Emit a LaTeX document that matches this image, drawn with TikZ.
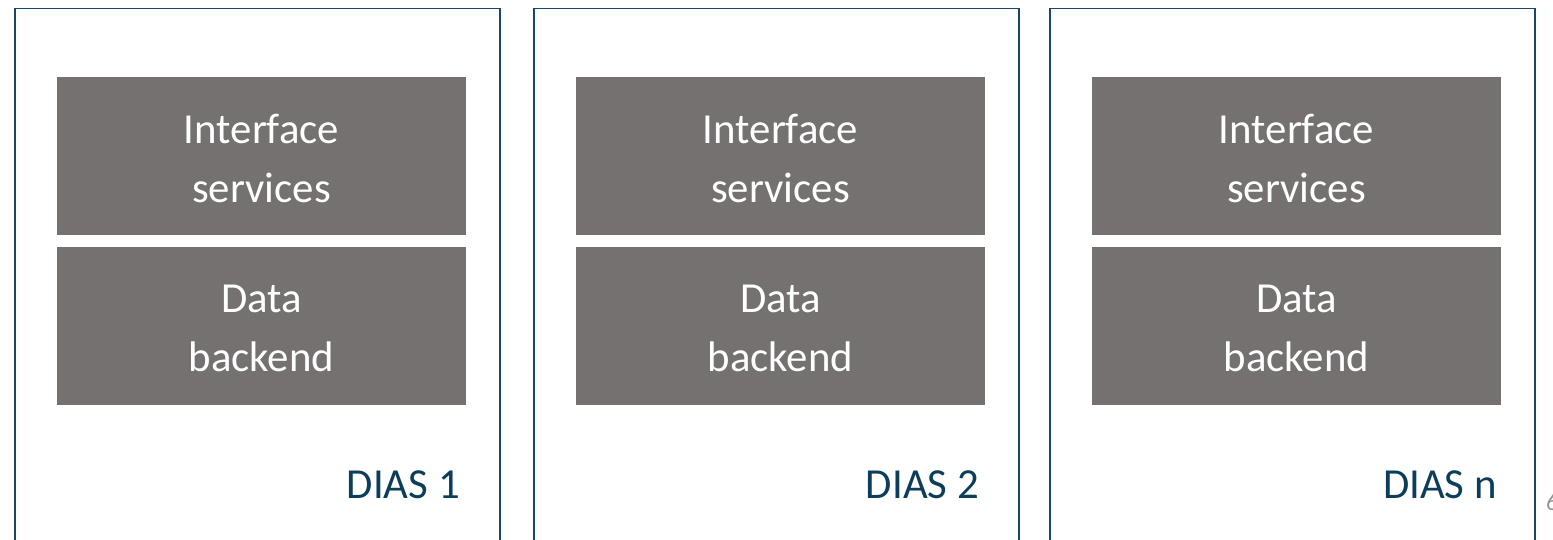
\documentclass[tikz,border=0pt]{standalone}
\usepackage{fontspec}
\setmainfont{Carlito}
\definecolor{boxgray}{RGB}{118,113,113}
\definecolor{frameblue}{RGB}{22,72,105}
\definecolor{labelblue}{RGB}{12,62,92}
\definecolor{pagegray}{RGB}{150,150,150}
\begin{document}
\begin{tikzpicture}[x=1pt,y=-1pt,
  layerbox/.style={fill=boxgray,draw=none,minimum width=409pt,minimum height=158pt,inner sep=0pt},
  layertext/.style={text=white,align=center,inner sep=0pt,font=\fontsize{42.8}{59}\selectfont},
  frame/.style={draw=frameblue,line width=1.5pt},
  dias/.style={anchor=base east,text=labelblue,inner sep=0pt,font=\fontsize{42.8}{50}\selectfont}]
\useasboundingbox (0,0) rectangle (1553,539);
% outer frames (open at the bottom)
\draw[frame] (15,545) -- (15,8.5) -- (500,8.5) -- (500,545);
\draw[frame] (534,545) -- (534,8.5) -- (1019,8.5) -- (1019,545);
\draw[frame] (1050,545) -- (1050,8.5) -- (1535,8.5) -- (1535,545);
% column 1
\node[layerbox] (if1) at (261.5,156) {};
\node[layertext] (if1t) at ([yshift=-2pt]if1.center) {Interface\\services};
\node[layerbox] (db1) at (261.5,326) {};
\node[layertext] (db1t) at ([yshift=-2pt]db1.center) {Data\\backend};
\node[dias] (d1) at (460,498) {DIAS 1};
% column 2
\node[layerbox] (if2) at (780.5,156) {};
\node[layertext] (if2t) at ([yshift=-2pt]if2.center) {Interface\\services};
\node[layerbox] (db2) at (780.5,326) {};
\node[layertext] (db2t) at ([yshift=-2pt]db2.center) {Data\\backend};
\node[dias] (d2) at (979,498) {DIAS 2};
% column 3
\node[layerbox] (if3) at (1296.5,156) {};
\node[layertext] (if3t) at ([yshift=-2pt]if3.center) {Interface\\services};
\node[layerbox] (db3) at (1296.5,326) {};
\node[layertext] (db3t) at ([yshift=-2pt]db3.center) {Data\\backend};
\node[dias] (d3) at (1497,498) {DIAS n};
% page number (cut off at the edge, as in the reference)
\node[anchor=base west,inner sep=0pt,text=pagegray,font=\fontsize{24}{28}\selectfont] (pg) at (1546,510) {6};
\end{tikzpicture}
\end{document}
